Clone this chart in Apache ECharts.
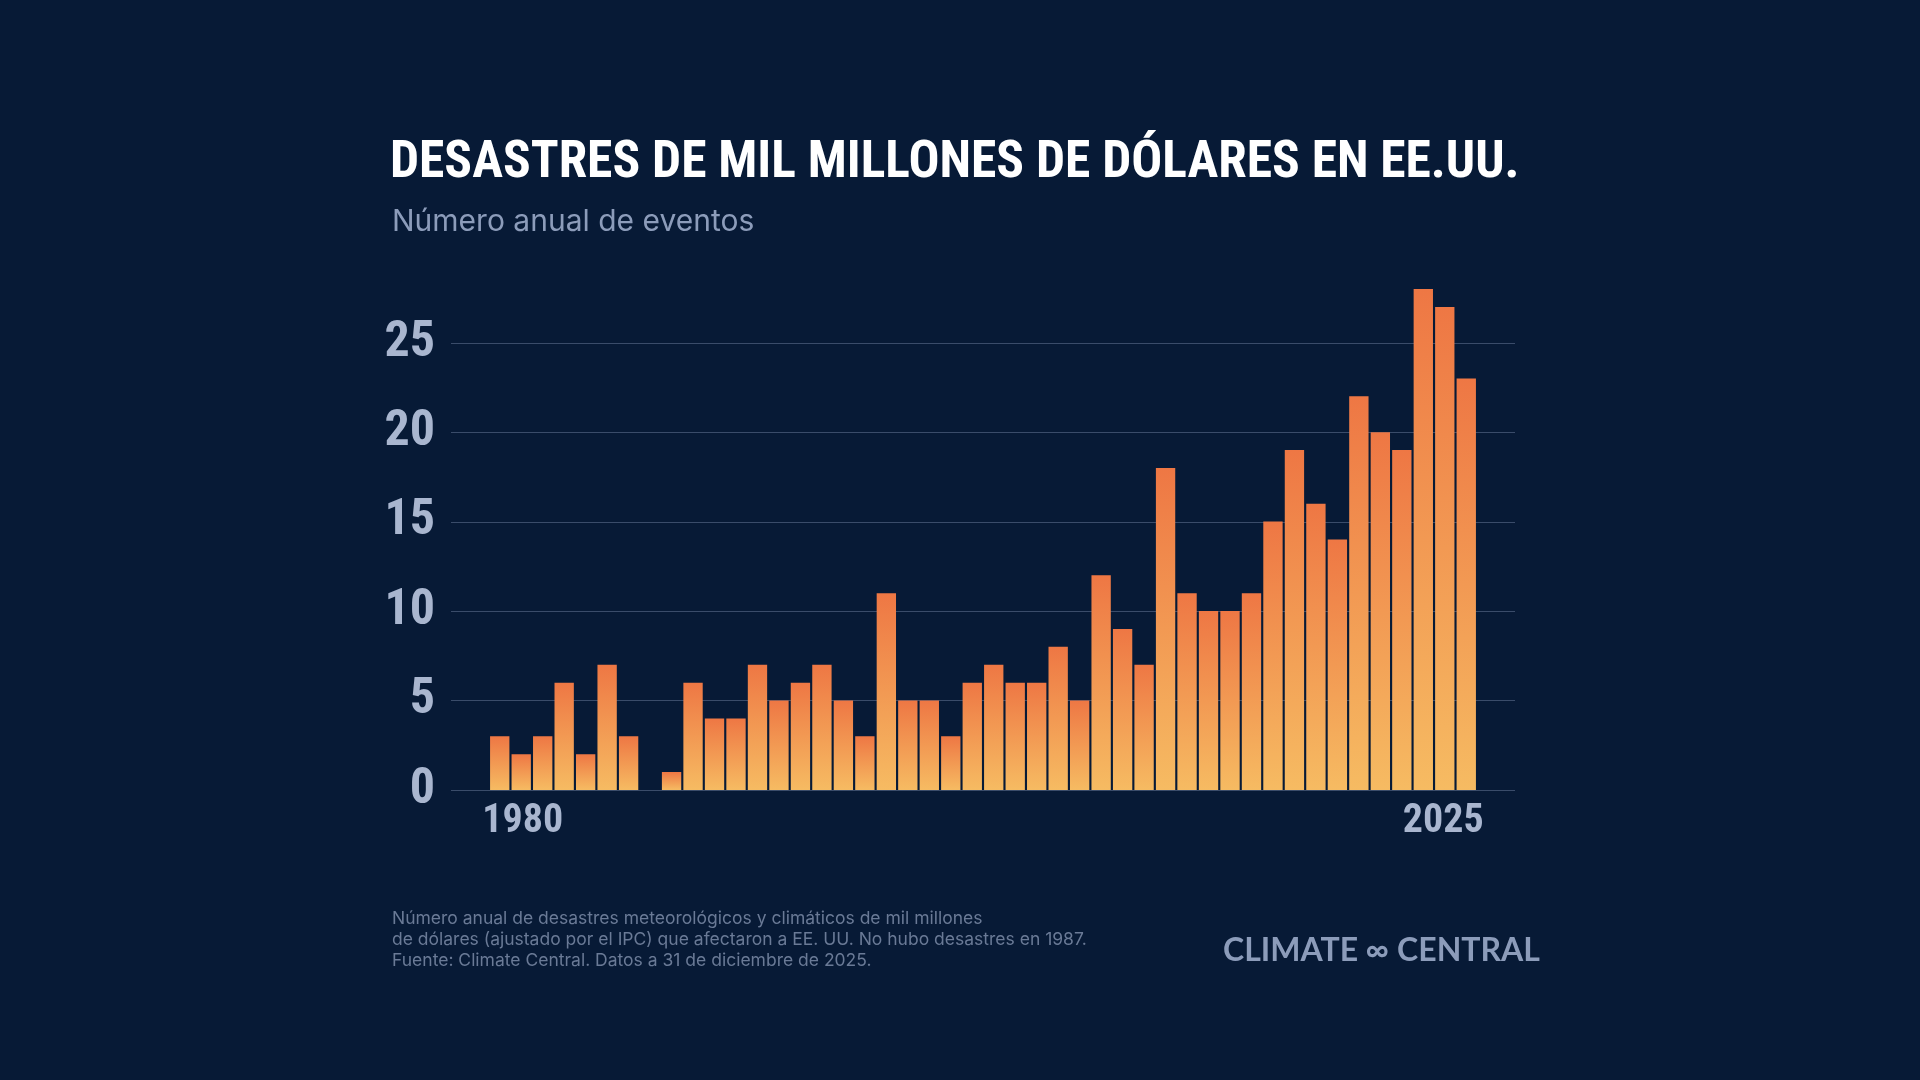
<!DOCTYPE html>
<html><head><meta charset="utf-8">
<script src="https://cdn.jsdelivr.net/npm/echarts@6/dist/echarts.min.js"></script>
<style>html,body{margin:0;background:#071a36}#c{width:1920px;height:1080px}</style>
</head><body><div id="c"></div>
<script>
const years = [];
for (let y = 1980; y <= 2025; y++) years.push(String(y));
const counts = [3,2,3,6,2,7,3,0,1,6,4,4,7,5,6,7,5,3,11,5,5,3,6,7,6,6,8,5,12,9,7,18,11,10,10,11,15,19,16,14,22,20,19,28,27,23];
const shownYears = ['1980','2025'];
const yTicks = [0,5,10,15,20,25];

const chart = echarts.init(document.getElementById('c'));
const cond = '"Liberation Sans Narrow","Roboto Condensed",sans-serif';
const yearStyle = {color:'#a9b6cf',fontFamily:cond,fontWeight:'bold',fontSize:40};
chart.setOption({
  backgroundColor:'#071a36',
  title:[
    {text:'DESASTRES DE MIL MILLONES DE DÓLARES EN EE.UU.',left:385,top:133,
     textStyle:{color:'#ffffff',fontFamily:cond,fontWeight:'bold',fontSize:51.5}},
    {text:'Número anual de eventos',left:387,top:202,
     textStyle:{color:'#8c9cba',fontFamily:'Inter, sans-serif',fontWeight:'normal',fontSize:30}},
    {text:'Número anual de desastres meteorológicos y climáticos de mil millones\nde dólares (ajustado por el IPC) que afectaron a EE. UU. No hubo desastres en 1987.\nFuente: Climate Central. Datos a 31 de diciembre de 2025.',
     left:387,top:903,textStyle:{color:'#6a7a96',fontFamily:'Inter, sans-serif',fontWeight:'normal',fontSize:17.5,lineHeight:21}},
    {text:'CLIMATE ∞ CENTRAL',left:1218,top:930,
     textStyle:{color:'#8c9cba',fontFamily:'Lato, sans-serif',fontWeight:'bold',fontSize:32}}
  ],
  grid:[
    {left:489,right:443,top:289,bottom:290},
    {left:451,right:405,top:343,bottom:290}
  ],
  xAxis:[
    {type:'category',data:years,gridIndex:0,boundaryGap:true,
     axisLine:{show:false},axisTick:{show:false},
     axisLabel:{interval:0,margin:12,
       formatter:v=>v===shownYears[0]?'{a|'+v+'}':(v===shownYears[1]?'{b|'+v+'}':''),
       rich:{a:Object.assign({padding:[0,0,0,46]},yearStyle),b:Object.assign({padding:[0,46,0,0]},yearStyle)}}},
    {type:'value',gridIndex:1,show:false,min:0,max:1}
  ],
  yAxis:[
    {type:'value',gridIndex:0,min:0,max:28,show:false,splitLine:{show:false}},
    {type:'value',gridIndex:1,min:0,max:25,interval:5,
     axisLine:{show:false},axisTick:{show:false},
     splitLine:{lineStyle:{color:'#3a4c6a',width:1}},
     axisLabel:{margin:16,color:'#a9b6cf',fontFamily:cond,fontWeight:'bold',fontSize:50,
       formatter:v=>yTicks.includes(v)?String(v):''}}
  ],
  series:[{
    type:'bar',xAxisIndex:0,yAxisIndex:0,data:counts,barCategoryGap:'10%',z:5,
    itemStyle:{color:new echarts.graphic.LinearGradient(0,0,0,1,[
      {offset:0,color:'#ee7744'},{offset:1,color:'#f6bb62'}])}
  }]
});
</script></body></html>
